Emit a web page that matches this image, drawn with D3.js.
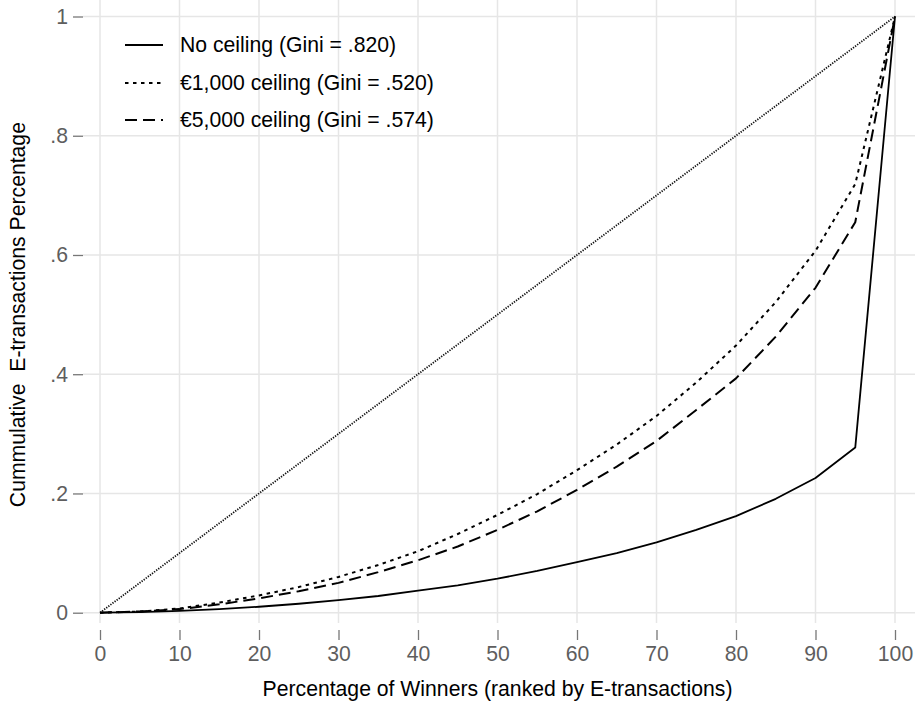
<!DOCTYPE html>
<html><head><meta charset="utf-8">
<script src="https://cdn.jsdelivr.net/npm/d3@7"></script>
<style>body{margin:0;background:#fff;} svg{display:block;font-family:"Liberation Sans",Arial,Helvetica,sans-serif;}</style>
</head><body>
<svg id="c" width="915" height="705"></svg>
<script>
const pctWinners = [0,5,10,15,20,25,30,35,40,45,50,55,60,65,70,75,80,85,90,95,100];
const noCeiling = [0,0.001,0.003,0.006,0.010,0.015,0.021,0.028,0.037,0.046,0.057,0.070,0.085,0.100,0.118,0.139,0.162,0.191,0.226,0.277,1];
const ceiling1000 = [0,0.002,0.007,0.017,0.029,0.043,0.060,0.080,0.103,0.132,0.164,0.199,0.239,0.282,0.330,0.386,0.448,0.521,0.607,0.719,1];
const ceiling5000 = [0,0.002,0.006,0.014,0.024,0.036,0.050,0.068,0.088,0.111,0.139,0.170,0.206,0.245,0.288,0.340,0.393,0.463,0.545,0.655,1];
const equality = [[0,0],[100,1]];
const seriesNames = ["No ceiling (Gini = .820)","€1,000 ceiling (Gini = .520)","€5,000 ceiling (Gini = .574)"];
const xTicks = [0,10,20,30,40,50,60,70,80,90,100];
const yTicks = [0,0.2,0.4,0.6,0.8,1];
const yTickLabels = ["0",".2",".4",".6",".8","1"];
const xTitle = "Percentage of Winners (ranked by E-transactions)";
const yTitle = "Cummulative  E-transactions Percentage";

const FS = 21.2;
const svg = d3.select("#c");
const x = d3.scaleLinear().domain([0,100]).range([100,895]);
const y = d3.scaleLinear().domain([0,1]).range([612.7,16.5]);
const grid = "#e6e6e6";
const plotL = 83, plotR = 915, plotT = 0, plotB = 623;

// gridlines
svg.append("g").selectAll("line").data(xTicks).join("line")
  .attr("x1",d=>x(d)).attr("x2",d=>x(d)).attr("y1",plotT).attr("y2",plotB)
  .attr("stroke",grid).attr("stroke-width",1.5);
svg.append("g").selectAll("line").data(yTicks).join("line")
  .attr("x1",plotL).attr("x2",plotR).attr("y1",d=>y(d)).attr("y2",d=>y(d))
  .attr("stroke",grid).attr("stroke-width",1.5);

// axes
const xAxis = d3.axisBottom(x).tickValues(xTicks).tickSize(10).tickPadding(6).tickFormat(d3.format("d"));
const gx = svg.append("g").attr("transform","translate(0,630)").call(xAxis);
gx.select(".domain").remove();
gx.selectAll(".tick line").attr("stroke","#777").attr("stroke-width",1.3);
gx.selectAll(".tick text").attr("fill","#5e5e5e").attr("font-size",FS).attr("font-family","Liberation Sans, Arial, sans-serif");

const yAxis = d3.axisLeft(y).tickValues(yTicks).tickSize(10).tickPadding(5).tickFormat((d,i)=>yTickLabels[i]);
const gy = svg.append("g").attr("transform","translate(83,0)").call(yAxis);
gy.select(".domain").remove();
gy.selectAll(".tick line").attr("stroke","#777").attr("stroke-width",1.3);
gy.selectAll(".tick text").attr("fill","#5e5e5e").attr("font-size",FS).attr("font-family","Liberation Sans, Arial, sans-serif");

// lines
const line = d3.line().x(d=>x(d[0])).y(d=>y(d[1]));
svg.append("path").datum(equality).attr("d",line).attr("fill","none")
  .attr("stroke","#111").attr("stroke-width",1.8).attr("stroke-dasharray","1.3,1.3");
const series = [
  {vals:ceiling1000, dash:"3.5,4.5", w:2},
  {vals:ceiling5000, dash:"12,6", w:2},
  {vals:noCeiling, dash:null, w:1.8}
];
series.forEach(s=>{
  const pts = pctWinners.map((p,i)=>[p,s.vals[i]]);
  svg.append("path").datum(pts).attr("d",line).attr("fill","none")
    .attr("stroke","#000").attr("stroke-width",s.w).attr("stroke-linejoin","round")
    .attr("stroke-dasharray",s.dash);
});

// legend
const legDash = [null,"3.5,4.5","12,6"];
const legY = [45,83,120];
seriesNames.forEach((n,i)=>{
  svg.append("line").attr("x1",125).attr("x2",163).attr("y1",legY[i]).attr("y2",legY[i])
    .attr("stroke","#000").attr("stroke-width",1.8).attr("stroke-dasharray",legDash[i]);
  svg.append("text").attr("x",180).attr("y",legY[i]).attr("dy","0.35em")
    .attr("font-size",FS).attr("fill","#000").text(n);
});

// titles
svg.append("text").attr("x",(x(0)+x(100))/2).attr("y",696).attr("text-anchor","middle")
  .attr("font-size",FS).attr("fill","#000").text(xTitle);
svg.append("text").attr("transform",`translate(25,${(y(0)+y(1))/2}) rotate(-90)`)
  .attr("text-anchor","middle").attr("font-size",FS).attr("fill","#000")
  .style("white-space","pre").text(yTitle);
</script>
</body></html>
